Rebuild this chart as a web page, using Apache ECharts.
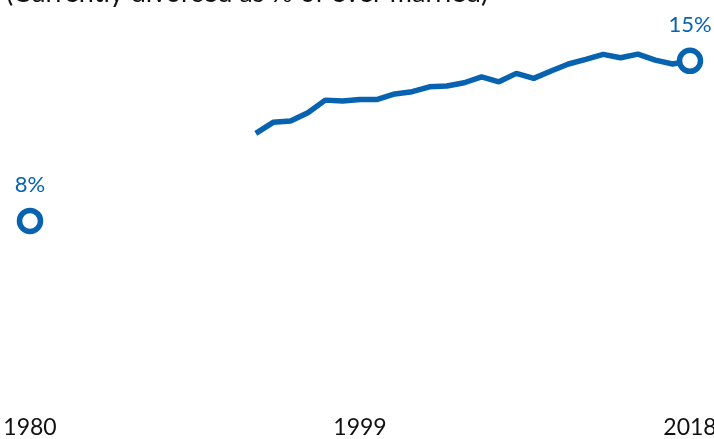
<!DOCTYPE html>
<html>
<head>
<meta charset="utf-8">
<script src="https://cdn.jsdelivr.net/npm/echarts@6/dist/echarts.min.js"></script>
<style>
  html, body { margin: 0; padding: 0; background: #fff; }
  #main { width: 714px; height: 439px; }
</style>
</head>
<body>
<div id="main"></div>
<script>
// years 1980..2018, only 1980 and 1993+ have values
const years = []
for (let y = 1980; y <= 2018; y++) years.push(String(y))

const firstValue = 8
const laterYears = ['1993', '1994', '1995', '1996', '1997', '1998', '1999', '2000', '2001', '2002', '2003', '2004', '2005',
  '2006', '2007', '2008', '2009', '2010', '2011', '2012', '2013', '2014', '2015', '2016', '2017', '2018']
const laterValues = [11.83, 12.31, 12.37, 12.73, 13.28, 13.24, 13.31, 13.31, 13.55, 13.65, 13.86, 13.9, 14.04,
  14.3, 14.08, 14.45, 14.23, 14.55, 14.86, 15.06, 15.28, 15.13, 15.29, 15.03, 14.86, 15.0]
const endLabels = { '1980': '8%', '2018': '15%' }

const blue = '#0763b0'

// build the series data, nulls where there is no value
const seriesData = years.map(function (yr) {
  let v = null
  if (yr === '1980') v = firstValue
  const i = laterYears.indexOf(yr)
  if (i >= 0) v = laterValues[i]
  if (endLabels[yr]) {
    return {
      value: v,
      symbol: 'circle',
      symbolSize: 21,
      itemStyle: { color: '#fff', borderColor: blue, borderWidth: 5.5 },
      label: { show: true, position: 'top', distance: 12, formatter: endLabels[yr] }
    }
  }
  return { value: v, symbol: 'none' }
})

const myChart = echarts.init(document.getElementById('main'))
myChart.setOption({
  animation: false,
  graphic: [{
    type: 'text',
    x: 6,
    y: 6.5,
    style: {
      text: '(Currently divorced as % of ever married)',
      font: '27px Lato',
      fill: '#111',
      verticalAlign: 'bottom'
    }
  }],
  grid: { left: 30, right: 24, top: 15, bottom: 35, outerBoundsMode: 'none' },
  xAxis: {
    type: 'category',
    data: years,
    boundaryGap: false,
    axisLine: { show: false },
    axisTick: { show: false },
    axisLabel: {
      interval: 18,
      margin: 12,
      color: '#111',
      fontSize: 23,
      fontFamily: 'Lato'
    }
  },
  yAxis: {
    type: 'value',
    min: 0,
    max: 17,
    show: false,
    splitLine: { show: false }
  },
  series: [{
    type: 'line',
    data: seriesData,
    connectNulls: false,
    showAllSymbol: true,
    lineStyle: { color: blue, width: 5.5 },
    itemStyle: { color: blue },
    label: { color: blue, fontSize: 22, fontFamily: 'Lato' },
    z: 3
  }]
})
</script>
</body>
</html>
